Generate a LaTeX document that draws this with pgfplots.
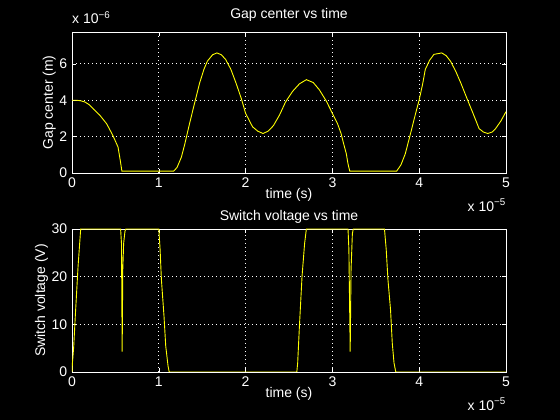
\documentclass[border=0pt]{standalone}
\usepackage{pgfplots}
\pgfplotsset{compat=1.18}
\usepackage{fontspec}
\setmainfont{Liberation Sans}
\definecolor{myyellow}{rgb}{1,1,0}
\begin{document}
\fontsize{14}{16}\selectfont
\begin{tikzpicture}
\fill[black] (0pt,0pt) rectangle (560pt,420pt);
\useasboundingbox (0pt,0pt) rectangle (560pt,420pt);
\pgfplotsset{
  mat/.style={
    scale only axis, width=434pt, xmin=0, xmax=5,
    axis line style={white, line width=0.8pt},
    xtick={0,1,2,3,4,5},
    tick style={white, line width=0.6pt}, major tick length=4pt, tick align=inside,
    grid=major, major grid style={white, dash pattern=on 1pt off 3pt, line width=0.7pt},
    tick label style={white, font=\fontsize{14}{16}\selectfont},
    label style={white, font=\fontsize{14}{16}\selectfont},
    title style={white, font=\fontsize{14}{16}\selectfont},
    xlabel style={yshift=5pt, inner sep=1pt},
    ylabel style={yshift=-6pt},
    /pgf/number format/assume math mode=true,
    clip mode=individual,
    xlabel={time (s)},
  }
}
\begin{axis}[mat, at={(72pt,247pt)}, anchor=south west, height=141pt,
  ymin=0, ymax=7.75, ytick={0,2,4,6},
  title={Gap center vs time}, ylabel={Gap center (m)}]
\addplot[myyellow, line width=0.9pt] coordinates {
(0,4.0)(0.05,4.0)(0.1,3.97)(0.15,3.9)(0.2,3.75)(0.25,3.5)(0.32,3.18)(0.4,2.7)(0.47,2.07)(0.53,1.43)(0.556,0.69)(0.575,0.1)
(1.17,0.1)(1.21,0.3)(1.26,0.87)(1.3,1.6)(1.35,2.63)(1.41,3.8)(1.47,4.94)(1.52,5.7)(1.56,6.15)(1.62,6.5)(1.67,6.6)(1.72,6.5)
(1.77,6.24)(1.83,5.7)(1.89,4.94)(1.95,4.1)(2.0,3.28)(2.08,2.54)(2.14,2.3)(2.2,2.17)(2.26,2.3)(2.32,2.6)(2.39,3.18)(2.46,3.9)
(2.54,4.48)(2.62,4.9)(2.7,5.13)(2.78,4.97)(2.85,4.57)(2.93,3.95)(3.0,3.28)(3.06,2.7)(3.10,2.17)(3.13,1.6)(3.16,1.06)(3.18,0.5)
(3.2,0.1)(3.74,0.1)(3.79,0.45)(3.84,1.06)(3.88,1.8)(3.92,2.54)(3.96,3.3)(4.0,4.02)(4.04,4.9)(4.07,5.69)(4.12,6.2)(4.17,6.52)
(4.26,6.6)(4.31,6.45)(4.36,6.15)(4.42,5.6)(4.48,4.94)(4.55,4.1)(4.62,3.28)(4.69,2.44)(4.74,2.25)(4.79,2.17)(4.84,2.25)
(4.88,2.44)(4.94,2.85)(5.0,3.37)};
\node[white, anchor=south west, inner sep=0pt, yshift=8pt] at (rel axis cs:0,1) {x 10\textsuperscript{−6}};
\node[white, anchor=north east, inner sep=0pt, yshift=-26pt] at (rel axis cs:1,0) {x 10\textsuperscript{−5}};
\end{axis}
\begin{axis}[mat, at={(72pt,48pt)}, anchor=south west, height=143pt,
  ymin=0, ymax=30, ytick={0,10,20,30},
  title style={yshift=-2pt, inner sep=1pt},
  title={Switch voltage vs time}, ylabel={Switch voltage (V)}]
\addplot[myyellow, line width=0.9pt] coordinates {
(0,0)(0.005,1.9)(0.02,5.4)(0.04,12.4)(0.07,22.2)(0.1,30)(0.56,30)(0.57,27)(0.578,4.3)(0.585,21.5)(0.595,27)(0.61,29.5)(0.62,30)
(1.0,30)(1.015,25.7)(1.03,19.4)(1.06,11.7)(1.08,5.4)(1.107,1.2)(1.12,0)(2.59,0)(2.60,1.9)(2.62,9.6)(2.65,20)(2.68,27)(2.70,30)
(3.18,30)(3.19,25.7)(3.205,4.3)(3.215,21.5)(3.23,29)(3.24,30)(3.60,30)(3.62,25.7)(3.64,19.4)(3.67,13)(3.69,6)(3.71,1.9)(3.73,0)(5,0)};
\node[white, anchor=north east, inner sep=0pt, yshift=-26pt] at (rel axis cs:1,0) {x 10\textsuperscript{−5}};
\end{axis}
\end{tikzpicture}
\end{document}
